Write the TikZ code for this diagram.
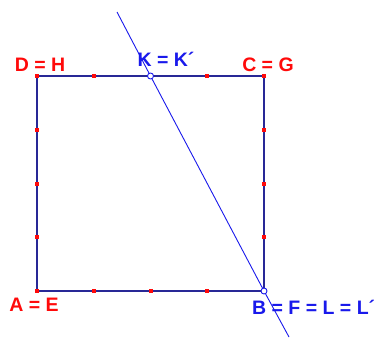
\documentclass[tikz,border=0pt]{standalone}
\usepackage{fontspec}
\setsansfont{Liberation Sans}
\usetikzlibrary{positioning,calc}
\definecolor{sqedge}{RGB}{40,40,150}
\definecolor{ptred}{RGB}{255,10,10}
\definecolor{lnblue}{RGB}{25,25,235}
\tikzset{
  lbl/.style={font=\sffamily\bfseries\fontsize{19.5}{22}\selectfont, inner sep=0pt},
  redlbl/.style={lbl, text=ptred},
  bluelbl/.style={lbl, text=lnblue},
  sqside/.style={draw=sqedge, line width=1.3pt},
  foldline/.style={draw=lnblue, line width=0.9pt},
  tick/.style={fill=ptred, minimum size=4pt, inner sep=0pt},
  ring/.style={circle, draw=lnblue, fill=white, line width=0.9pt, minimum size=6pt, inner sep=0pt},
}

\begin{document}
\begin{tikzpicture}[x=1pt, y=-1pt]
  \useasboundingbox (0,0) rectangle (374,338);
  \clip (0,0) rectangle (374,338);

  % square corners
  \coordinate (A) at (37,291);
  \coordinate (B) at (264,291);
  \coordinate (C) at (264,76);
  \coordinate (D) at (37,76);
  \coordinate (K) at ($(D)!0.5!(C)$);
  \coordinate (ltop) at (117,12);
  \coordinate (lbot) at (289,337);

  \draw[sqside] (A) -- (B) -- (C) -- (D) -- cycle;
  \draw[foldline] (ltop) -- (K) -- (B) -- (lbot);

  % marks on the sides
  \foreach \t in {0.25,0.5,0.75} {
    \node[tick] at ($(A)!\t!(D)$) {};
    \node[tick] at ($(A)!\t!(B)$) {};
    \node[tick] at ($(B)!\t!(C)$) {};
  }
  \node[tick] at ($(D)!0.25!(C)$) {};
  \node[tick] at ($(D)!0.75!(C)$) {};
  \node[tick] at (D) {};
  \node[tick] at (A) {};
  \node[tick] at (C) {};
  \node[ring] (kk) at (K) {};
  \node[ring] (bb) at (B) {};

  % labels
  \node[redlbl] (dh) at (40,65) {D = H};
  \node[bluelbl] (kl) at (166,59) {K = K´};
  \node[redlbl] (cg) at (268,65) {C = G};
  \node[redlbl] (ae) at (34,305) {A = E};
  \node[bluelbl, anchor=west] (bl) at (252,307) {B = F = L = L´};
\end{tikzpicture}
\end{document}
